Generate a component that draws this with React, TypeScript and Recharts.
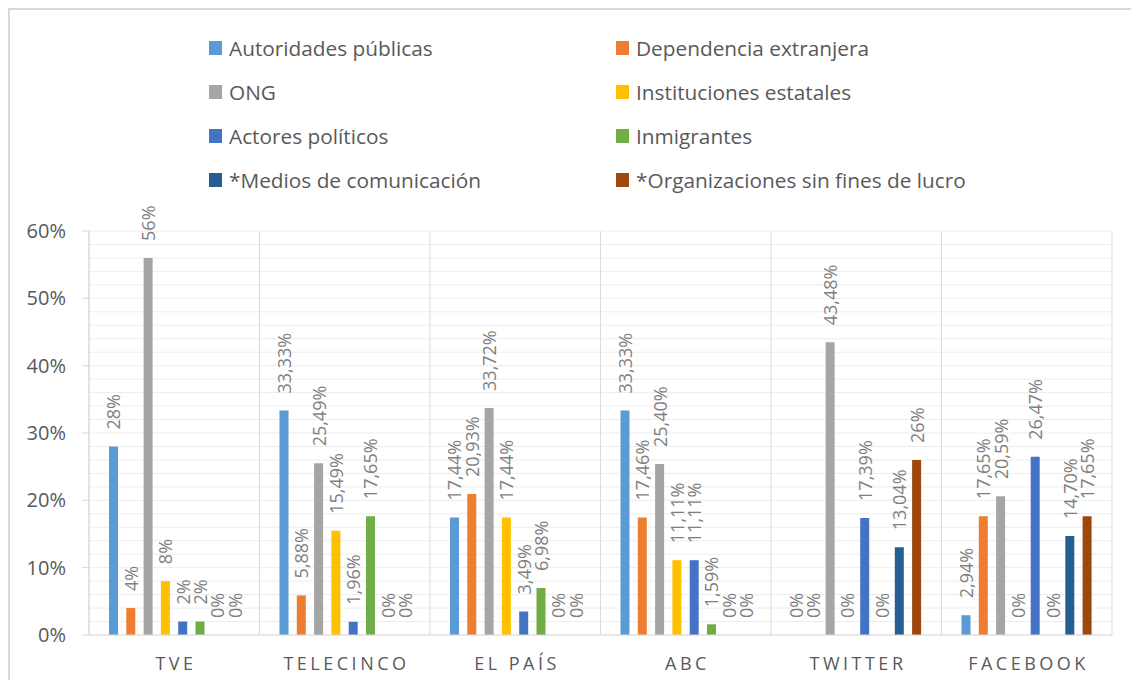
import React from 'react';
import { BarChart, Bar, XAxis, YAxis, CartesianGrid, Rectangle } from 'recharts';

const categories = ['TVE', 'TELECINCO', 'EL PAÍS', 'ABC', 'TWITTER', 'FACEBOOK'];

const seriesNames = [
  'Autoridades públicas',
  'Dependencia extranjera',
  'ONG',
  'Instituciones estatales',
  'Actores políticos',
  'Inmigrantes',
  '*Medios de comunicación',
  '*Organizaciones sin fines de lucro',
];

const seriesColors = ['#5B9BD5', '#ED7D31', '#A5A5A5', '#FFC000', '#4472C4', '#70AD47', '#255E91', '#9E480E'];

const autoridades = [28, 33.33, 17.44, 33.33, 0, 2.94];
const dependencia = [4, 5.88, 20.93, 17.46, 0, 17.65];
const ong = [56, 25.49, 33.72, 25.4, 43.48, 20.59];
const instituciones = [8, 15.49, 17.44, 11.11, 0, 0];
const actores = [2, 1.96, 3.49, 11.11, 17.39, 26.47];
const inmigrantes = [2, 17.65, 6.98, 1.59, 0, 0];
const medios = [0, 0, 0, 0, 13.04, 14.7];
const organizaciones = [0, 0, 0, 0, 26, 17.65];

const seriesValues = [autoridades, dependencia, ong, instituciones, actores, inmigrantes, medios, organizaciones];

const yTicks = [0, 2, 4, 6, 8, 10, 12, 14, 16, 18, 20, 22, 24, 26, 28, 30, 32, 34, 36, 38, 40, 42, 44, 46, 48, 50, 52, 54, 56, 58, 60];
const yMajorTicks = [0, 10, 20, 30, 40, 50, 60];

const data = categories.map((c, i) => {
  const row: Record<string, any> = { name: c };
  seriesValues.forEach((arr, k) => {
    row['s' + k] = arr[i];
  });
  return row;
});

const FONT = '"Open Sans", "Noto Sans", sans-serif';

const fmt = (v: number) => (Number.isInteger(v) ? `${v}%` : `${v.toFixed(2).replace('.', ',')}%`);

const makeShape = (key: string) => (props: any) => {
  const { x, y, width, height, fill, payload } = props;
  const v = Number(payload[key]);
  const cx = Number(x) + Number(width) / 2;
  const top = Math.min(Number(y), Number(y) + Number(height));
  const ty = top - 17;
  return (
    <g>
      {Math.abs(Number(height)) > 0 && <Rectangle x={x} y={y} width={width} height={height} fill={fill} />}
      <text
        x={cx}
        y={ty}
        transform={`rotate(-90 ${cx} ${ty})`}
        textAnchor="start"
        dominantBaseline="central"
        fill="#7F7F7F"
        fontSize={18}
        fontFamily={FONT}
      >
        {fmt(v)}
      </text>
    </g>
  );
};

const YTick = (props: any) => {
  const { x, y, payload } = props;
  const v = payload.value;
  if (!yMajorTicks.includes(v)) return null;
  return (
    <g>
      <line x1={x - 7} x2={x} y1={y} y2={y} stroke="#D9D9D9" strokeWidth={1} />
      <text x={x - 23} y={y} dy="0.35em" textAnchor="end" fill="#595959" fontSize={20} fontFamily={FONT}>
        {`${v}%`}
      </text>
    </g>
  );
};

const XTick = (props: any) => {
  const { x, y, payload } = props;
  return (
    <text
      x={x}
      y={y + 35}
      dx={1.75}
      textAnchor="middle"
      fill="#595959"
      fontSize={18}
      letterSpacing={3.5}
      fontFamily={FONT}
    >
      {payload.value}
    </text>
  );
};

const LegendBlock = () => {
  const cols = [201, 608];
  const rowsY = [40, 84, 128, 172];
  return (
    <>
      {seriesNames.map((n, i) => {
        const col = i % 2;
        const row = Math.floor(i / 2);
        return (
          <div
            key={n}
            style={{
              position: 'absolute',
              left: cols[col],
              top: rowsY[row] - 15,
              height: 30,
              display: 'flex',
              alignItems: 'center',
              whiteSpace: 'nowrap',
              fontFamily: FONT,
              fontSize: 20.8,
              color: '#595959',
            }}
          >
            <span style={{ display: 'inline-block', width: 13, height: 14, background: seriesColors[i], marginRight: 7 }} />
            <span>{n}</span>
          </div>
        );
      })}
    </>
  );
};

export default function App() {
  return (
    <div style={{ position: 'relative', width: 1123, height: 672, background: '#fff' }}>
      <BarChart
        width={1123}
        height={672}
        data={data}
        margin={{ top: 223, right: 19, bottom: 5, left: 0 }}
        barSize={9}
        barGap={8.3}
      >
        <CartesianGrid vertical={false} stroke="#EDEDED" strokeWidth={1} />
        <CartesianGrid
          horizontal={false}
          stroke="#D9D9D9"
          strokeWidth={1}
          verticalCoordinatesGenerator={({ offset }: any) =>
            categories.map((_, i) => offset.left + (i * offset.width) / categories.length).concat([offset.left + offset.width])
          }
        />
        <XAxis
          dataKey="name"
          height={40}
          tickLine={false}
          tickSize={0}
          tickMargin={0}
          axisLine={{ stroke: '#D9D9D9', strokeWidth: 1 }}
          tick={<XTick />}
          interval={0}
        />
        <YAxis
          width={81}
          domain={[0, 60]}
          ticks={yTicks}
          interval={0}
          tickLine={false}
          tickSize={0}
          tickMargin={0}
          axisLine={{ stroke: '#D9D9D9', strokeWidth: 1 }}
          tick={<YTick />}
        />
        {seriesNames.map((n, k) => (
          <Bar
            key={n}
            dataKey={'s' + k}
            name={n}
            fill={seriesColors[k]}
            isAnimationActive={false}
            shape={makeShape('s' + k)}
          />
        ))}
      </BarChart>
      <LegendBlock />
      <div
        style={{
          position: 'absolute',
          left: 0,
          top: 0,
          width: 1123,
          height: 672,
          boxSizing: 'border-box',
          borderTop: '2px solid #D9D9D9',
          borderLeft: '2px solid #D9D9D9',
          pointerEvents: 'none',
        }}
      />
    </div>
  );
}
